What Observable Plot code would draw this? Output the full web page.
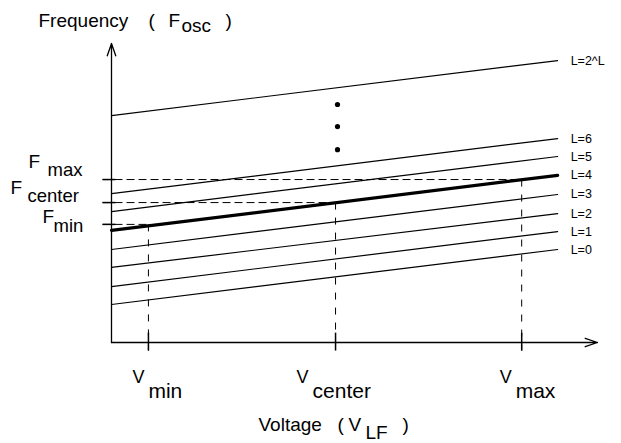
<!DOCTYPE html>
<html><head><meta charset="utf-8">
<script src="https://cdn.jsdelivr.net/npm/d3@7"></script>
<script src="https://cdn.jsdelivr.net/npm/@observablehq/plot@0.6"></script>
<style>html,body{margin:0;padding:0;background:#fff} svg{display:block}</style>
</head><body><div id="chart"></div>
<script>
// ---- data (abstract units: voltage 0..1 along x-axis, frequency 0..1 along y-axis)
const levels   = ["L=0","L=1","L=2","L=3","L=4","L=5","L=6","L=2^L"];
const fAtStart = [0.127,0.187,0.251,0.311,0.375,0.438,0.498,0.759];
const fAtEnd   = [0.311,0.371,0.431,0.495,0.559,0.622,0.682,0.943];
const vStart = 0;
const vEnd   = 0.918;
const highlighted = "L=4";
const vTickNames = ["min","center","max"];
const vTicks     = [0.076,0.461,0.844];
const fTickNames = ["min","center","max"];
const fTicks     = [0.395,0.468,0.545];
const ellipsisV  = 0.465;
const ellipsisF  = [0.796,0.722,0.645];
const xTitle = ["Voltage", "V", "LF"];
const yTitle = ["Frequency", "F", "osc"];

// ---- build
const lineRows = levels.flatMap((L,i)=>[{L, v:vStart, f:fAtStart[i]},{L, v:vEnd, f:fAtEnd[i]}]);
const endRows  = levels.map((L,i)=>({L, v:vEnd, f:fAtEnd[i]}));
const vRows = vTicks.map((v,i)=>({v, f:fTicks[i], name:vTickNames[i]}));
const fRows = fTicks.map((f,i)=>({f, v:vTicks[i], name:fTickNames[i]}));

const FONT = "Liberation Sans, Arial, Helvetica, sans-serif";
const T = (text, x, y, dx, dy, size) => Plot.text([{x,y,text}], {x:"x", y:"y", text:"text", dx, dy, fontSize:size, textAnchor:"start", lineAnchor:"bottom", fill:"black"});

const marks = [
  // axes with arrows
  Plot.arrow([{x1:0,y1:0,x2:1,y2:0}], {x1:"x1",y1:"y1",x2:"x2",y2:"y2", stroke:"black", strokeWidth:1.3, headLength:15, headAngle:38}),
  Plot.arrow([{x1:0,y1:0,x2:0,y2:1}], {x1:"x1",y1:"y1",x2:"x2",y2:"y2", stroke:"black", strokeWidth:1.3, headLength:15, headAngle:38}),
  // dashed guides
  Plot.link(fRows, {x1:-0.0185, x2:"v", y1:"f", y2:"f", stroke:"black", strokeWidth:1, strokeDasharray:"8,4"}),
  Plot.link(vRows, {x1:"v", x2:"v", y1:"f", y2:-0.027, stroke:"black", strokeWidth:1, strokeDasharray:"7,8"}),
  // ticks
  Plot.link(fRows, {x1:-0.0185, x2:0.008, y1:"f", y2:"f", stroke:"black", strokeWidth:1.5}),
  Plot.link(vRows, {x1:"v", x2:"v", y1:0.033, y2:-0.027, stroke:"black", strokeWidth:1.5}),
  // characteristic lines
  Plot.line(lineRows.filter(d=>d.L!==highlighted), {x:"v", y:"f", z:"L", stroke:"black", strokeWidth:1.2}),
  Plot.line(lineRows.filter(d=>d.L===highlighted), {x:"v", y:"f", z:"L", stroke:"black", strokeWidth:3.2}),
  Plot.text(endRows, {x:"v", y:"f", text:"L", dx:13, textAnchor:"start", lineAnchor:"middle", fontSize:12.5, fill:"black"}),
  // ellipsis dots
  Plot.dot(ellipsisF.map(f=>({v:ellipsisV,f})), {x:"v", y:"f", r:2.6, fill:"black", stroke:null}),
  // y title
  T(yTitle[0], 0, 1, -73, -17, 19),
  T("(", 0, 1, 37, -17, 19),
  T(yTitle[1], 0, 1, 57, -17, 19),
  T(yTitle[2], 0, 1, 70, -12, 19),
  T(")", 0, 1, 114, -17, 19),
  // x title
  T(xTitle[0], 0, 0, 147, 88, 19),
  T("(", 0, 0, 226, 88, 19),
  T(xTitle[1], 0, 0, 237, 88, 19),
  T(xTitle[2], 0, 0, 254, 96, 19),
  T(")", 0, 0, 291, 88, 19),
];

// V tick labels
const vShift = {min:0, center:-23, max:-6};
vRows.forEach(d => {
  const s = vShift[d.name];
  marks.push(Plot.text([d], {x:"v", y:()=>0, text:()=>"V", dx:s-4, dy:40, textAnchor:"end", lineAnchor:"bottom", fontSize:18, fill:"black"}));
  marks.push(Plot.text([d], {x:"v", y:()=>0, text:"name", dx:s, dy:55, textAnchor:"start", lineAnchor:"bottom", fontSize:21, fill:"black"}));
});
// F tick labels
const fShift = {max:{F:[-83,-12], s:[-64,-4]}, center:{F:[-101,-9], s:[-84,-1]}, min:{F:[-69,-1], s:[-58,8]}};
fRows.forEach(d => {
  const o = fShift[d.name];
  marks.push(Plot.text([d], {x:()=>0, y:"f", text:()=>"F", dx:o.F[0], dy:o.F[1], textAnchor:"start", lineAnchor:"bottom", fontSize:19, fill:"black"}));
  marks.push(Plot.text([d], {x:()=>0, y:"f", text:"name", dx:o.s[0], dy:o.s[1], textAnchor:"start", lineAnchor:"bottom", fontSize:18.5, fill:"black"}));
});

const chart = Plot.plot({
  width: 621, height: 443,
  marginLeft: 111, marginRight: 24, marginTop: 43, marginBottom: 101,
  x: {domain:[0,1], axis:null},
  y: {domain:[0,1], axis:null},
  style: {fontFamily: FONT, background:"#fff", color:"black", overflow:"visible"},
  marks
});
document.getElementById("chart").appendChild(chart);
</script>
</body></html>
